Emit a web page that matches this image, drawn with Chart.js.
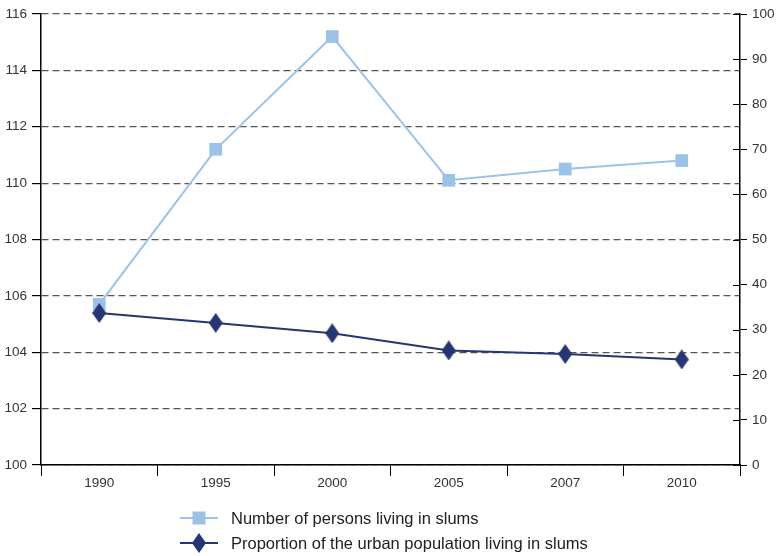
<!DOCTYPE html>
<html>
<head>
<meta charset="utf-8">
<script src="https://cdn.jsdelivr.net/npm/chart.js@4/dist/chart.umd.min.js"></script>
<style>
  html, body { margin: 0; padding: 0; background: #fff; }
  #wrap { width: 779px; height: 556px; }
</style>
</head>
<body>
<div id="wrap"><canvas id="slumChart"></canvas></div>
<script>
const years = ['1990', '1995', '2000', '2005', '2007', '2010'];
const slumPersons = [105.7, 111.2, 115.2, 110.1, 110.5, 110.8];
const slumShare = [33.7, 31.5, 29.2, 25.4, 24.6, 23.4];
const personsLabel = 'Number of persons living in slums';
const shareLabel = 'Proportion of the urban population living in slums';

const lightBlue = '#9cc3e7';
const navy = '#253672';
const textColor = '#333';
const fontFamily = "'Liberation Sans', Arial, sans-serif";

// tall diamond marker, the built-in rectRot is too squat
function makeDiamond(w, h, color) {
    const c = document.createElement('canvas');
    c.width = w;
    c.height = h;
    const g = c.getContext('2d');
    g.fillStyle = color;
    g.beginPath();
    g.moveTo(w / 2, 0);
    g.lineTo(w, h / 2);
    g.lineTo(w / 2, h);
    g.lineTo(0, h / 2);
    g.closePath();
    g.fill();
    return c;
}
const diamond = makeDiamond(14, 20, navy);

// right axis ticks cross the axis line, chart.js only draws the outer half
const crossTicks = {
    id: 'crossTicks',
    afterDraw(chart) {
        const scale = chart.scales.yRight;
        const ctx = chart.ctx;
        const x = chart.chartArea.right;
        ctx.save();
        ctx.strokeStyle = '#000';
        ctx.lineWidth = 1;
        scale.ticks.forEach(t => {
            const y = Math.round(scale.getPixelForValue(t.value)) + 0.5;
            ctx.beginPath();
            ctx.moveTo(x - 7, y);
            ctx.lineTo(x, y);
            ctx.stroke();
        });
        ctx.restore();
    }
};

// legend: two left-aligned rows under the axis
const stackedLegend = {
    id: 'stackedLegend',
    afterDraw(chart) {
        const ctx = chart.ctx;
        const area = chart.chartArea;
        const x0 = area.left + 139;
        const rows = [area.bottom + 53, area.bottom + 78];
        ctx.save();
        chart.data.datasets.forEach((ds, i) => {
            const y = rows[i];
            ctx.strokeStyle = ds.borderColor;
            ctx.lineWidth = 2;
            ctx.beginPath();
            ctx.moveTo(x0, y);
            ctx.lineTo(x0 + 38, y);
            ctx.stroke();
            if (ds.pointStyle === 'rect') {
                ctx.fillStyle = ds.pointBackgroundColor;
                ctx.fillRect(x0 + 19 - 6.5, y - 6.5, 13, 13);
            } else {
                ctx.drawImage(ds.pointStyle, x0 + 19 - 7, y - 10);
            }
            ctx.fillStyle = '#222';
            ctx.font = '16.5px ' + fontFamily;
            ctx.textBaseline = 'middle';
            ctx.fillText(ds.label, x0 + 51, y + 1);
        });
        ctx.restore();
    }
};

const chart = new Chart(document.getElementById('slumChart'), {
    type: 'line',
    data: {
        labels: years,
        datasets: [{
            label: personsLabel,
            data: slumPersons,
            yAxisID: 'yLeft',
            borderColor: lightBlue,
            borderWidth: 2,
            pointStyle: 'rect',
            pointRadius: 9,
            pointBackgroundColor: lightBlue,
            pointBorderWidth: 0,
            tension: 0,
            order: 2
        }, {
            label: shareLabel,
            data: slumShare,
            yAxisID: 'yRight',
            borderColor: navy,
            borderWidth: 2,
            pointStyle: diamond,
            pointRadius: 10,
            pointBackgroundColor: navy,
            pointBorderWidth: 0,
            tension: 0,
            order: 1
        }]
    },
    options: {
        responsive: true,
        maintainAspectRatio: false,
        animation: false,
        layout: { padding: { top: 14, left: 0, right: 0, bottom: 0 } },
        plugins: {
            legend: { display: false },
            tooltip: { enabled: false }
        },
        scales: {
            x: {
                offset: true,
                grid: {
                    offset: true,
                    drawOnChartArea: false,
                    color: '#000',
                    tickColor: '#000',
                    tickLength: 11
                },
                border: { color: '#000', width: 1.5 },
                ticks: {
                    color: textColor,
                    padding: -1,
                    font: { size: 13.5, family: fontFamily }
                },
                afterFit(scale) { scale.height = 91; }
            },
            yLeft: {
                position: 'left',
                min: 100,
                max: 116,
                ticks: {
                    stepSize: 2,
                    color: textColor,
                    padding: 5,
                    font: { size: 13.5, family: fontFamily }
                },
                grid: {
                    color: '#555',
                    lineWidth: 1.2,
                    tickColor: '#000',
                    tickLength: 9,
                    tickBorderDash: []
                },
                border: { color: '#000', width: 1.5, dash: [7, 4] },
                afterFit(scale) { scale.width = 41; }
            },
            yRight: {
                position: 'right',
                min: 0,
                max: 100,
                ticks: {
                    stepSize: 10,
                    color: textColor,
                    padding: 5,
                    font: { size: 13.5, family: fontFamily }
                },
                grid: {
                    drawOnChartArea: false,
                    tickColor: '#000',
                    tickLength: 7,
                    tickBorderDash: []
                },
                border: { color: '#000', width: 1.5 },
                afterFit(scale) { scale.width = 39; }
            }
        }
    },
    plugins: [crossTicks, stackedLegend]
});
</script>
</body>
</html>
